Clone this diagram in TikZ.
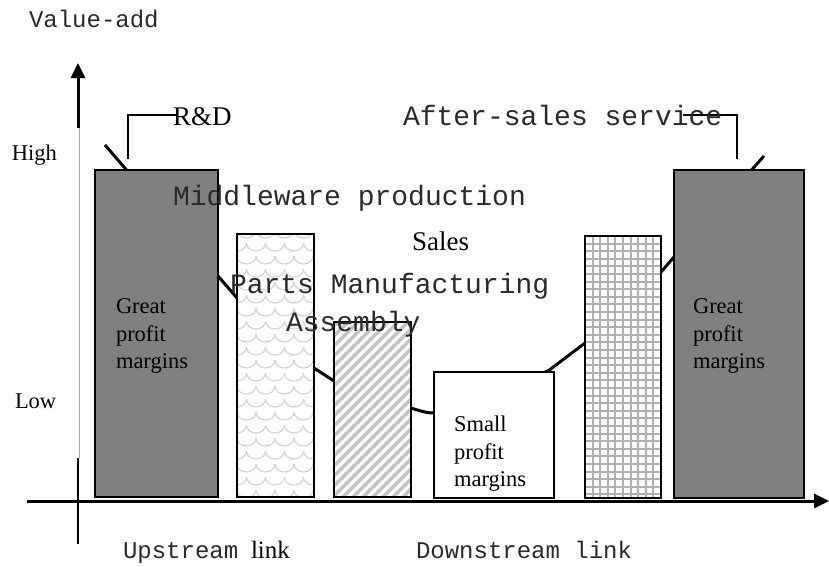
\documentclass[tikz,border=0pt]{standalone}
\usepackage{fontspec}
\setmainfont{Liberation Serif}
\newfontfamily\monof{Liberation Mono}
\usetikzlibrary{arrows.meta}
\definecolor{bargray}{HTML}{808080}
\definecolor{patgray}{HTML}{C4C4C4}
\definecolor{scalegray}{HTML}{D2D2D2}
\definecolor{monotext}{HTML}{2A2A2A}
\begin{document}
\begin{tikzpicture}[x=1pt,y=-1pt,
  lbl/.style={anchor=base west, inner sep=0pt, outer sep=0pt},
  mono/.style={lbl, text=monotext, font=\monof\fontsize{28}{30}\selectfont},
  monos/.style={lbl, text=monotext, font=\monof\fontsize{24}{26}\selectfont},
  serif/.style={lbl, font=\fontsize{22.5}{27.5}\selectfont},
  serifl/.style={lbl, font=\fontsize{27}{30}\selectfont},
  barline/.style={draw=black, line width=2pt},
  curve/.style={line width=3pt, line join=round},
  callout/.style={line width=2pt},
  axis/.style={line width=3pt},
  tip/.style={-{Triangle[length=15pt,width=14pt]}}
]
\useasboundingbox (0,0) rectangle (829,566);

% smile curve (behind the bars)
\draw[curve] (105,145) -- (237,298) -- (314,368) -- (334,381)
  .. controls (420,412) and (425,413) .. (434,413)
  -- (548,371) -- (585,343) -- (661,272) -- (674,257) -- (764,156);

% bar 1
\draw[barline, fill=bargray] (95,170) rectangle (218,497);
% bar 2 (scale pattern)
\fill[white] (237,234) rectangle (314,497);
\begin{scope}
  \clip (237,234) rectangle (314,497);
  \foreach \j in {0,...,21} {
    \foreach \i in {-1,...,4} {
      \pgfmathsetmacro\xx{237 + \i*19 + mod(\j,2)*9.5}
      \pgfmathsetmacro\yy{230 + \j*13}
      \draw[scalegray, line width=1.1pt] (\xx,\yy) arc[start angle=180, end angle=360, x radius=9.5pt, y radius=8pt];
    }
  }
\end{scope}
\draw[barline] (237,234) rectangle (314,497);
% bar 3 (stripes)
\fill[white] (334,322) rectangle (411,497);
\begin{scope}
  \clip (334,322) rectangle (411,497);
  \foreach \x in {140,150,...,420} {
    \draw[patgray, line width=3.5pt] (\x,520) -- ++(220,-220);
  }
\end{scope}
\draw[barline] (334,322) rectangle (411,497);
% box 4
\draw[barline, fill=white] (434,372) rectangle (554,498);
% bar 5 (grid)
\fill[white] (585,236) rectangle (661,498);
\begin{scope}
  \clip (585,236) rectangle (661,498);
  \foreach \x in {0,...,10} {
    \draw[patgray!90!black, line width=2pt] (585+\x*7.6,230) -- (585+\x*7.6,500);
  }
  \foreach \y in {0,...,35} {
    \draw[patgray!90!black, line width=2pt] (580,236+\y*7.6) -- (665,236+\y*7.6);
  }
\end{scope}
\draw[barline] (585,236) rectangle (661,498);
% bar 6
\draw[barline, fill=bargray] (674,170) rectangle (804,498);

% axes
\coordinate (yb) at (78,458);
\coordinate (ybot) at (78,544);
\coordinate (ymid) at (78,128);
\coordinate (ytop) at (78,63);
\coordinate (xl) at (27,501);
\coordinate (xr) at (829,501);
\draw[gray!70, line width=1pt] (79,128) -- (79,458);
\draw[line width=2pt] (yb) -- (ybot);
\draw[axis, tip] (ymid) -- (ytop);
\draw[axis, tip] (xl) -- (xr);

% callouts
\draw[callout] (128,159) -- (128,115) -- (178,115);
\draw[callout] (683,115) -- (737,115) -- (737,159);

% labels
\node[monos] (va) at (29,27) {Value-add};
\node[serif] (hi) at (12,160) {High};
\node[serif] (lo) at (15,408) {Low};
\node[serifl] (rd) at (173,125) {R\&D};
\node[mono] (as) at (403,125) {After-sales service};
\node[mono] (mw) at (173,205) {Middleware production};
\node[serifl] (sa) at (412,250) {Sales};
\node[mono] (pm) at (230,293) {Parts Manufacturing};
\node[mono] (ab) at (286,331) {Assembly};
\node[serif] (g1a) at (116,313) {Great};
\node[serif] (g1b) at (116,341) {profit};
\node[serif] (g1c) at (116,368) {margins};
\node[serif] (g2a) at (693,313) {Great};
\node[serif] (g2b) at (693,341) {profit};
\node[serif] (g2c) at (693,368) {margins};
\node[serif] (s1) at (454,431) {Small};
\node[serif] (s2) at (454,459) {profit};
\node[serif] (s3) at (454,486) {margins};
\node[monos] (up) at (123,558) {Upstream};
\node[lbl, font=\fontsize{25}{28}\selectfont] (upl) at (251,558) {link};
\node[monos] (dn) at (416,558) {Downstream link};
\end{tikzpicture}
\end{document}
